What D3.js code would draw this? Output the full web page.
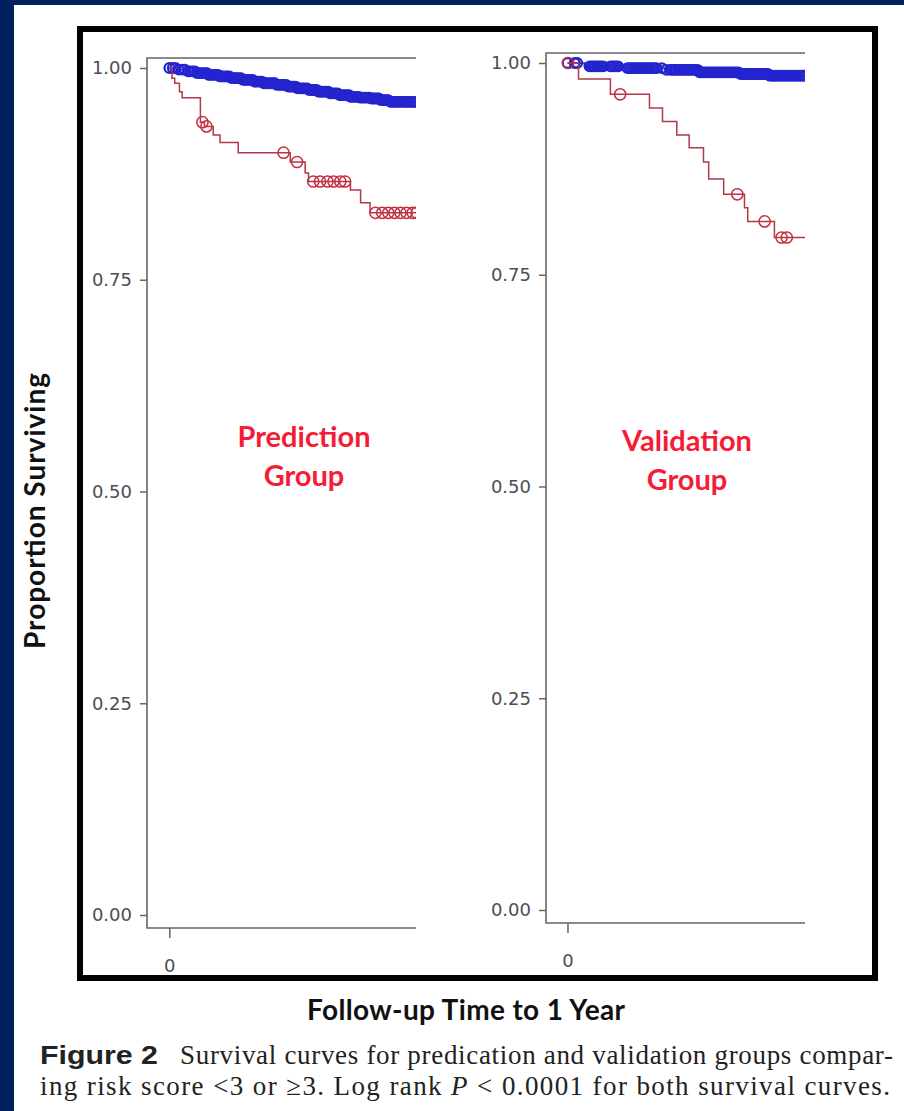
<!DOCTYPE html>
<meta charset="utf-8">
<head>
	<title>Survival curves</title>
	<script type="text/javascript" src="https://d3js.org/d3.v7.min.js"></script>
	<style>
		body { margin: 0; background: #00215e; }
		.tick text { font-family: "DejaVu Sans", sans-serif; font-size: 18px; fill: #4d4d55; }
		.tick line { stroke: #666; stroke-width: 1.5; }
	</style>
</head>
<body>
<script>

	// ---- data (time in days, survival proportion) ----
	const yTicks = [0, 0.25, 0.5, 0.75, 1];
	const xTicks = [0];

	// prediction group, risk score < 3 (blue)
	const predBlueSteps = [[10, 0.998], [25, 0.996], [40, 0.994], [58, 0.992], [75, 0.990], [92, 0.988],
		[108, 0.986], [125, 0.984], [140, 0.982], [158, 0.980], [175, 0.978], [190, 0.976], [205, 0.974],
		[220, 0.972], [238, 0.970], [252, 0.968], [268, 0.966], [282, 0.965], [298, 0.964], [312, 0.962], [325, 0.960]];
	const predBlueCensor = [0, 5, 9, 14, 19, 23, 28, 31, 35, 38, 41, 44, 47, 50, 53, 56, 58, 61, 64, 67, 70, 72,
		75, 78, 81, 84, 86, 89, 92, 95, 98, 100, 103, 106, 109, 112, 114, 117, 120, 123, 126, 128, 131, 134, 137,
		140, 142, 145, 148, 151, 154, 156, 159, 162, 165, 168, 170, 173, 176, 179, 182, 184, 187, 190, 193, 196,
		198, 201, 204, 207, 210, 212, 215, 218, 221, 224, 226, 229, 232, 235, 238, 240, 243, 246, 249, 252, 254,
		257, 260, 263, 266, 268, 271, 274, 277, 280, 282, 285, 288, 291, 294, 296, 299, 302, 305, 308, 310, 313,
		316, 319, 322, 324, 327, 330, 333, 336, 338, 341, 344, 347, 350, 352, 355, 358, 361, 364];

	// prediction group, risk score >= 3 (red)
	const predRedSteps = [[4, 0.988], [8, 0.982], [15, 0.972], [19, 0.965], [46, 0.936], [52, 0.931],
		[65, 0.921], [75, 0.912], [102, 0.900], [179, 0.889], [201, 0.876], [206, 0.866], [268, 0.856],
		[283, 0.841], [297, 0.829]];
	const predRedCensor = [49, 55, 169, 189, 213, 223, 234, 243, 253, 260, 305, 315, 324, 333, 342, 351, 360, 366];

	// validation group, risk score < 3 (blue)
	const valBlueSteps = [[26, 0.996], [80, 0.994], [149, 0.992], [203, 0.989], [264, 0.987], [310, 0.985]];
	const valBlueCensor = [0, 11, 15, 34, 37, 40, 43, 46, 49, 52, 55, 66, 69, 72, 75, 78, 92, 95, 98, 101, 104,
		107, 110, 113, 116, 119, 122, 125, 128, 131, 134, 137, 145, 152, 158, 161, 164, 167, 170, 173, 176, 179,
		182, 185, 188, 191, 194, 197, 200, 203, 206, 209, 212, 215, 218, 221, 224, 227, 230, 233, 236, 239, 242,
		245, 248, 251, 254, 257, 260, 263, 266, 269, 272, 275, 278, 281, 284, 287, 290, 293, 296, 299, 302, 305,
		308, 311, 314, 317, 320, 323, 326, 329, 332, 335, 338, 341, 344, 347, 350, 353, 356, 359, 362, 365];

	// validation group, risk score >= 3 (red)
	const valRedSteps = [[17, 0.981], [66, 0.963], [126, 0.947], [146, 0.931], [168, 0.915], [187, 0.900],
		[209, 0.883], [217, 0.863], [240, 0.845], [272, 0.829], [277, 0.813], [318, 0.794]];
	const valRedCensor = [1, 81, 261, 303, 329, 337];

	const panels = [
		{ name: "pred", x: 147, top: 58, width: 269, label: ["Prediction", "Group"], labelX: 304, labelY: 447,
		  blue: predBlueSteps, blueC: predBlueCensor, red: predRedSteps, redC: predRedCensor },
		{ name: "val", x: 546, top: 53, width: 259, label: ["Validation", "Group"], labelX: 687, labelY: 451,
		  blue: valBlueSteps, blueC: valBlueCensor, red: valRedSteps, redC: valRedCensor }
	];

	const width = 904, height = 1111;
	const plotH = 870;

	const svg = d3.select("body").append("svg")
		.attr("width", width)
		.attr("height", height);

	svg.append("rect").attr("width", width).attr("height", height).attr("fill", "#00215e");
	svg.append("rect").attr("x", 14).attr("y", 5).attr("width", width - 14).attr("height", height - 5).attr("fill", "#fff");

	// thick black frame round both plots
	svg.append("rect")
		.attr("x", 80).attr("y", 29).attr("width", 795).attr("height", 949)
		.attr("fill", "none").attr("stroke", "#000").attr("stroke-width", 6);

	function survAt(steps, t) {
		let s = 1;
		steps.forEach(function (d) { if (d[0] <= t) s = d[1]; });
		return s;
	}

	panels.forEach(function (p) {
		const g = svg.append("g").attr("transform", `translate(${p.x},${p.top})`);

		const x = d3.scaleLinear().domain([-33, 365]).range([0, p.width]);
		const y = d3.scaleLinear().domain([0, 1]).range([857, 10]);

		// frame: top, left and bottom lines (right side left open)
		g.append("path")
			.attr("d", `M${p.width},0H0V${plotH}H${p.width}`)
			.attr("fill", "none").attr("stroke", "#666").attr("stroke-width", 1.6);

		const ya = g.append("g")
			.call(d3.axisLeft(y).tickValues(yTicks).tickFormat(d3.format(".2f")).tickSize(7).tickPadding(8));
		ya.select(".domain").remove();

		const xa = g.append("g")
			.attr("transform", `translate(0,${plotH})`)
			.call(d3.axisBottom(x).tickValues(xTicks).tickFormat(d3.format("d")).tickSize(10).tickPadding(21));
		xa.select(".domain").remove();

		g.append("clipPath").attr("id", "clip-" + p.name)
			.append("rect").attr("x", 0).attr("y", -10).attr("width", p.width).attr("height", plotH);

		const plot = g.append("g").attr("clip-path", `url(#clip-${p.name})`);

		const line = d3.line()
			.x(d => x(d[0]))
			.y(d => y(d[1]))
			.curve(d3.curveStepAfter);

		function curve(steps, censor, lineColor, markColor, r, sw) {
			const pts = [[0, 1]].concat(steps, [[370, steps[steps.length - 1][1]]]);
			plot.append("path")
				.attr("d", line(pts))
				.attr("fill", "none").attr("stroke", lineColor).attr("stroke-width", 1.5);
			plot.append("g").selectAll("circle")
				.data(censor)
				.enter().append("circle")
				.attr("cx", d => x(d))
				.attr("cy", d => y(survAt(steps, d)))
				.attr("r", r)
				.attr("fill", "none")
				.attr("stroke", markColor)
				.attr("stroke-width", sw);
		}

		curve(p.blue, p.blueC, "#2222cc", "#2424cf", 4.8, 2.2);
		curve(p.red, p.redC, "#b03848", "#c42e3e", 5.6, 1.5);

		// group label
		svg.append("text")
			.attr("x", p.labelX).attr("y", p.labelY)
			.attr("text-anchor", "middle")
			.style("font-family", "Lato, 'Open Sans', sans-serif")
			.style("font-weight", "bold")
			.style("font-size", "29px")
			.attr("fill", "#f51c36")
			.selectAll("tspan")
			.data(p.label)
			.enter().append("tspan")
			.attr("x", p.labelX)
			.attr("dy", (d, i) => i ? 39 : 0)
			.text(d => d);
	});

	// axis titles
	svg.append("text")
		.attr("transform", "translate(45,511) rotate(-90)")
		.attr("text-anchor", "middle")
		.attr("textLength", 276).attr("lengthAdjust", "spacing")
		.style("font-family", "Lato, sans-serif")
		.style("font-weight", "bold")
		.style("font-size", "28px")
		.attr("fill", "#111")
		.text("Proportion Surviving");

	svg.append("text")
		.attr("x", 466).attr("y", 1020)
		.attr("text-anchor", "middle")
		.attr("textLength", 318).attr("lengthAdjust", "spacing")
		.style("font-family", "Lato, sans-serif")
		.style("font-weight", "bold")
		.style("font-size", "28px")
		.attr("fill", "#111")
		.text("Follow-up Time to 1 Year");

	// figure caption
	svg.append("text")
		.attr("x", 40).attr("y", 1064)
		.attr("textLength", 118).attr("lengthAdjust", "spacingAndGlyphs")
		.style("font-family", "'Liberation Sans', Arial, sans-serif")
		.style("font-weight", "bold")
		.style("font-size", "25px")
		.attr("fill", "#222")
		.text("Figure 2");

	svg.append("text")
		.attr("x", 180).attr("y", 1064)
		.attr("textLength", 713).attr("lengthAdjust", "spacing")
		.style("font-family", "'Liberation Serif', 'Times New Roman', serif")
		.style("font-size", "27px")
		.attr("fill", "#222")
		.text("Survival curves for predication and validation groups compar-");

	const cap2 = svg.append("text")
		.attr("x", 40).attr("y", 1095)
		.attr("textLength", 850).attr("lengthAdjust", "spacing")
		.style("font-family", "'Liberation Serif', 'Times New Roman', serif")
		.style("font-size", "27px")
		.attr("fill", "#222");
	cap2.append("tspan").text("ing risk score <3 or \u22653. Log rank ");
	cap2.append("tspan").style("font-style", "italic").text("P");
	cap2.append("tspan").text(" < 0.0001 for both survival curves.");

</script>
</body>
</html>
